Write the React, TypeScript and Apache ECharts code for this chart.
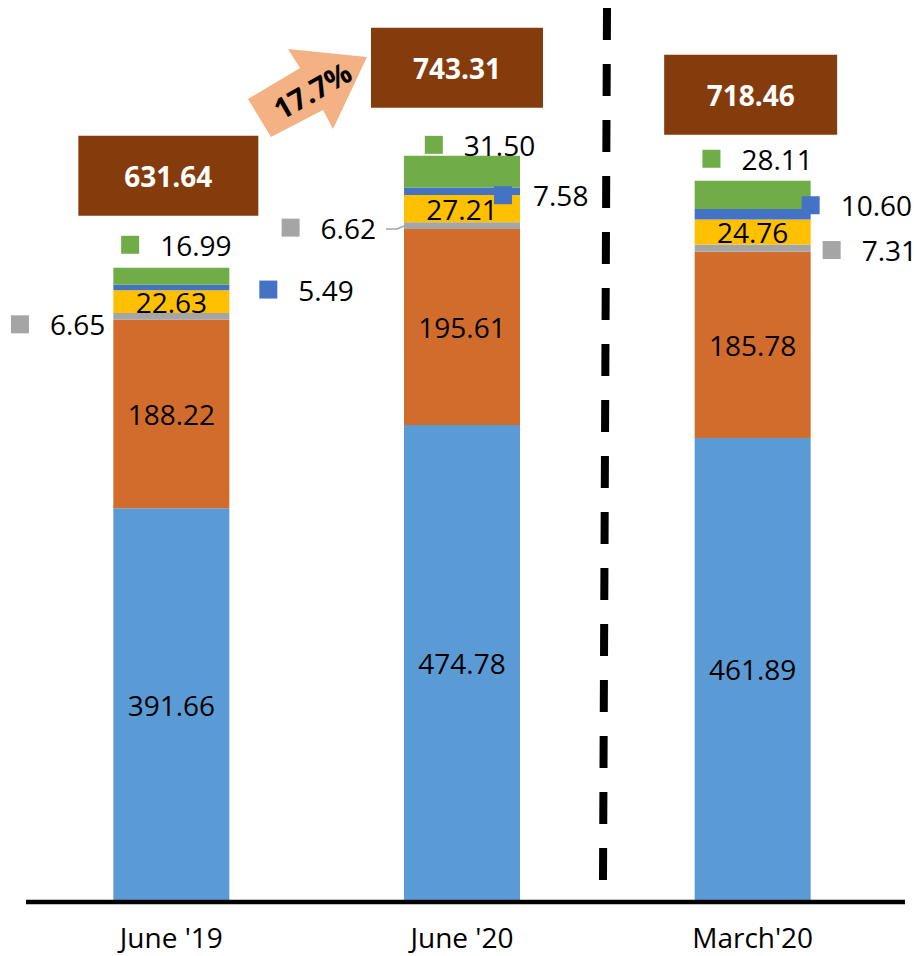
import React, { useEffect, useRef } from "react";
import * as echarts from "echarts";

const categories = ["June '19", "June '20", "March'20"];
const blueValues = [391.66, 474.78, 461.89];
const orangeValues = [188.22, 195.61, 185.78];
const grayValues = [6.65, 6.62, 7.31];
const yellowValues = [22.63, 27.21, 24.76];
const navyValues = [5.49, 7.58, 10.6];
const greenValues = [16.99, 31.5, 28.11];
const totals = [631.64, 743.31, 718.46];
const growthText = "17.7%";

const FONT = "'Open Sans', 'Noto Sans', sans-serif";

// label placement for the thin segments (keyed labels outside the bars)
const grayLabelLayout = [
  { position: "left", offset: [-8, 8] },
  { position: "left", offset: [-28, 2] },
  { position: "right", offset: [12, 2] },
];
const navyLabelLayout = [
  { position: "right", offset: [30, 2] },
  { position: "right", offset: [-26, 4] },
  { position: "right", offset: [-9, -9] },
];
const greenLabelLayout = [
  { position: "top", offset: [5, -9] },
  { position: "top", offset: [18, 3] },
  { position: "top", offset: [5, -8] },
];
const totalBoxLayout = [
  { offset: [-3, -92], width: 180 },
  { offset: [-5, -88], width: 172 },
  { offset: [-2, -86], width: 173 },
];

const fmt = (v: number) => v.toFixed(2);

function keyedLabel(color: string) {
  return {
    show: true,
    distance: 0,
    formatter: (p: any) => `{m|}{v|${fmt(p.value)}}`,
    rich: {
      m: {
        width: 18,
        height: 18,
        backgroundColor: color,
        verticalAlign: "middle",
      },
      v: {
        fontSize: 28,
        lineHeight: 28,
        color: "#000",
        fontFamily: FONT,
        padding: [0, 0, 0, 21],
        verticalAlign: "middle",
      },
    },
  };
}

function insideLabel() {
  return {
    show: true,
    position: "inside",
    fontSize: 28,
    color: "#000",
    fontFamily: FONT,
    formatter: (p: any) => fmt(p.value),
  };
}

export default function App() {
  const ref = useRef<HTMLDivElement>(null);

  useEffect(() => {
    if (!ref.current) return;
    const chart = echarts.init(ref.current, undefined, { renderer: "svg" });

    const barBase = {
      type: "bar",
      stack: "total",
      barWidth: 116,
    };

    chart.setOption({
      animation: false,
      textStyle: { fontFamily: FONT },
      grid: { left: 26, right: 19, top: 99, bottom: 55 },
      xAxis: {
        type: "category",
        data: categories,
        axisTick: { show: false },
        axisLine: { show: false },
        axisLabel: {
          fontSize: 28,
          lineHeight: 28,
          color: "#000",
          margin: 22,
          fontFamily: FONT,
        },
      },
      yAxis: { type: "value", min: 0, max: 800, show: false },
      series: [
        {
          ...barBase,
          name: "blue",
          itemStyle: { color: "#5B9BD5" },
          label: insideLabel(),
          data: blueValues,
        },
        {
          ...barBase,
          name: "orange",
          itemStyle: { color: "#D26C2C" },
          label: insideLabel(),
          data: orangeValues,
        },
        {
          ...barBase,
          name: "gray",
          itemStyle: { color: "#A5A5A5" },
          label: keyedLabel("#A5A5A5"),
          data: grayValues.map((v, i) => ({ value: v, label: grayLabelLayout[i] })),
        },
        {
          ...barBase,
          name: "yellow",
          itemStyle: { color: "#FFC000" },
          label: insideLabel(),
          data: yellowValues,
        },
        {
          ...barBase,
          name: "navy",
          itemStyle: { color: "#4472C4" },
          label: keyedLabel("#4472C4"),
          data: navyValues.map((v, i) => ({ value: v, label: navyLabelLayout[i] })),
        },
        {
          ...barBase,
          name: "green",
          itemStyle: { color: "#70AD47" },
          label: keyedLabel("#70AD47"),
          data: greenValues.map((v, i) => ({ value: v, label: greenLabelLayout[i] })),
        },
        {
          type: "scatter",
          name: "total",
          symbolSize: 0,
          z: 5,
          itemStyle: { opacity: 1 },
          data: totals.map((v, i) => ({
            value: v,
            label: {
              offset: totalBoxLayout[i].offset,
              width: totalBoxLayout[i].width,
            },
          })),
          label: {
            show: true,
            position: "inside",
            formatter: (p: any) => fmt(p.value),
            backgroundColor: "#843C0C",
            color: "#fff",
            opacity: 1,
            fontWeight: "bold",
            fontSize: 28,
            fontFamily: FONT,
            height: 80,
            lineHeight: 80,
            align: "center",
            verticalAlign: "middle",
          },
        },
      ],
      graphic: [
        {
          type: "line",
          shape: { x1: 26, y1: 902, x2: 905, y2: 902 },
          style: { stroke: "#000", lineWidth: 4.5 },
          z: 10,
        },
        {
          type: "line",
          shape: { x1: 607, y1: 8, x2: 603, y2: 880 },
          style: { stroke: "#000", lineWidth: 8, lineDash: [32, 24] },
          z: 10,
        },
        {
          // leader from the June '20 grey label to its segment
          type: "polyline",
          shape: {
            points: [
              [386, 229],
              [397, 229],
              [404, 226],
            ],
          },
          style: { stroke: "#A5A5A5", lineWidth: 1.5, fill: null },
          z: 10,
        },
        {
          type: "polygon",
          shape: {
            points: [
              [248, 99],
              [271, 137],
              [323, 110],
              [333, 129],
              [367, 57],
              [288, 49],
              [300, 68],
            ],
          },
          style: { fill: "#F4B183" },
          z: 10,
        },
        {
          type: "text",
          x: 312,
          y: 90,
          rotation: (29.7 * Math.PI) / 180,
          style: {
            text: growthText,
            fill: "#000",
            font: `bold 29px ${FONT}`,
            textAlign: "center",
            textVerticalAlign: "middle",
          },
          z: 11,
        },
      ],
    });

    return () => chart.dispose();
  }, []);

  return (
    <div
      ref={ref}
      style={{ position: "absolute", left: 0, top: 0, width: 917, height: 956 }}
    />
  );
}
